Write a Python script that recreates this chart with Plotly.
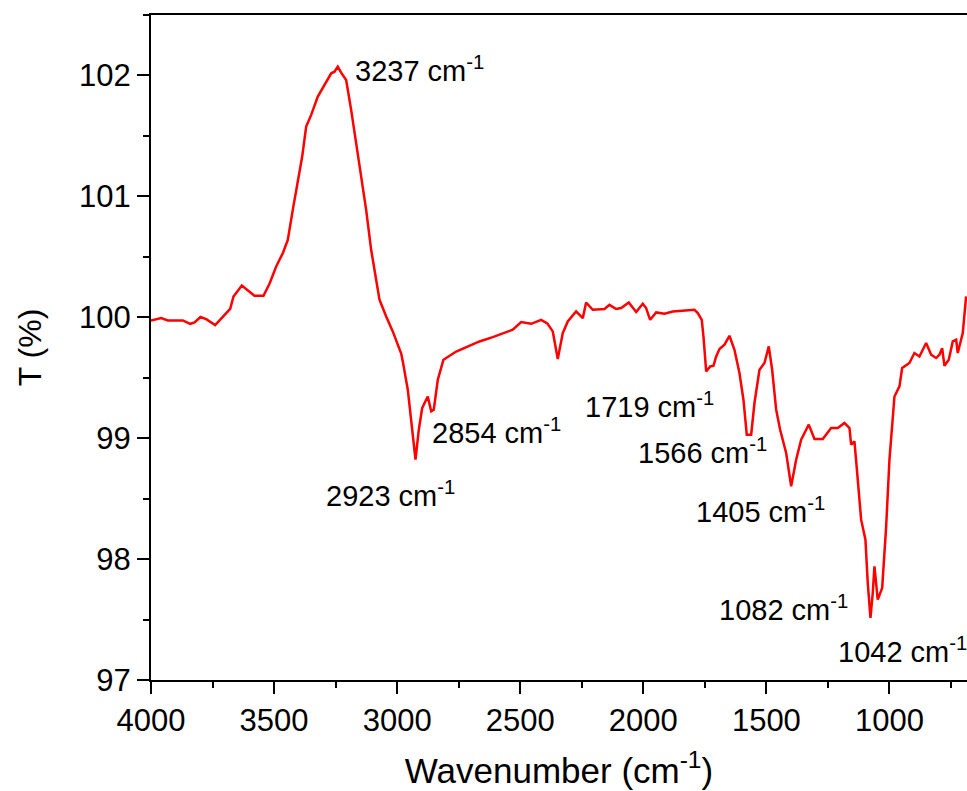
import plotly.graph_objects as go

# FTIR spectrum (wavenumber in cm-1, transmittance in %)
wavenumber = [
    4000, 3958.6, 3931.8, 3870.8, 3840.8, 3823, 3798.9, 3775.8, 3739.4, 3708,
    3678.3, 3664.9, 3631, 3579.6, 3543, 3518.6, 3491.4, 3464.6, 3444.3, 3424,
    3403.7, 3385.8, 3369.6, 3349.2, 3322.4, 3295.2, 3267.9, 3254.6, 3241.2, 3227.5,
    3207.2, 3186.9, 3166.6, 3146.2, 3125.9, 3105.6, 3085.3, 3071.8, 3044.6, 3017.8,
    2983.6, 2977.1, 2956.8, 2938.9, 2925.5, 2912, 2898.3, 2875.6, 2861.8, 2851.2,
    2834.9, 2811.8, 2760.2, 2665.6, 2611.6, 2530.4, 2496.2, 2455.6, 2415, 2390,
    2367.8, 2347.5, 2327.2, 2306.9, 2273, 2245.9, 2232.3, 2205.3, 2157.8, 2137.5,
    2110.3, 2090, 2059.1, 2029, 2002.2, 1988.6, 1972.2, 1947.8, 1914, 1880.3,
    1826, 1792.2, 1778.7, 1762.5, 1755.6, 1744.6, 1728.4, 1715, 1704, 1690.6,
    1670.3, 1650, 1629.7, 1609.4, 1593.2, 1579.7, 1561.8, 1548.4, 1528.1, 1507.8,
    1490.3, 1476.6, 1460.3, 1444.1, 1419.7, 1399.4, 1379.1, 1358.8, 1338.4, 1327.8,
    1304.7, 1270.9, 1236.9, 1209.9, 1182.8, 1162.5, 1155.6, 1142.2, 1128.8, 1115.1,
    1097.6, 1088.2, 1077.2, 1067.8, 1061, 1047.6, 1029.6, 1013.4, 1000, 979.7,
    959.4, 948.4, 918.9, 898.6, 878.2, 851, 830.7, 810.4, 796.9, 786,
    776.7, 759.1, 742.8, 729, 722.6, 708.8, 702.2, 688.6,
]
transmittance = [
    99.974, 99.993, 99.974, 99.974, 99.946, 99.957, 100.002, 99.985, 99.936, 100.007,
    100.07, 100.172, 100.263, 100.178, 100.178, 100.277, 100.42, 100.53, 100.64, 100.888,
    101.109, 101.329, 101.577, 101.674, 101.825, 101.921, 102.018, 102.031, 102.073, 102.023,
    101.963, 101.715, 101.44, 101.164, 100.888, 100.558, 100.31, 100.145, 100.007, 99.883,
    99.7, 99.635, 99.401, 99.098, 98.822, 99.07, 99.25, 99.345, 99.222, 99.236,
    99.483, 99.649, 99.717, 99.8, 99.836, 99.897, 99.96, 99.946, 99.979, 99.95,
    99.883, 99.655, 99.869, 99.965, 100.048, 99.993, 100.122, 100.062, 100.068, 100.103,
    100.068, 100.076, 100.122, 100.043, 100.112, 100.076, 99.979, 100.04, 100.029, 100.048,
    100.054, 100.062, 100.035, 99.979, 99.841, 99.552, 99.593, 99.599, 99.676, 99.737,
    99.773, 99.847, 99.731, 99.539, 99.318, 99.029, 99.029, 99.291, 99.566, 99.622,
    99.759, 99.566, 99.236, 99.07, 98.878, 98.602, 98.822, 98.988, 99.07, 99.112,
    98.993, 98.993, 99.084, 99.084, 99.126, 99.084, 98.946, 98.974, 98.657, 98.326,
    98.161, 97.803, 97.514, 97.721, 97.94, 97.665, 97.762, 98.271, 98.822, 99.345,
    99.428, 99.58, 99.622, 99.704, 99.676, 99.787, 99.69, 99.663, 99.69, 99.745,
    99.599, 99.649, 99.8, 99.814, 99.704, 99.814, 99.869, 100.172,
]

# Peak labels and their label anchor positions (data coordinates)
peak_labels = ["3237", "2923", "2854", "1719", "1566", "1405", "1082", "1042"]
label_x = [3179.4, 3297.2, 2867.8, 2245.0, 2030.9, 1795.2, 1699.4, 1218.4]
label_y = [101.89, 98.370, 98.891, 99.112, 98.729, 98.238, 97.430, 97.080]

x_ticks = [4000, 3500, 3000, 2500, 2000, 1500, 1000]
y_ticks = [97, 98, 99, 100, 101, 102]

FONT = "Liberation Sans, Arial, sans-serif"

fig = go.Figure()
fig.add_trace(go.Scatter(
    x=wavenumber, y=transmittance, mode="lines",
    line=dict(color="#ff0000", width=2.5), showlegend=False,
))

for lab, lx, ly in zip(peak_labels, label_x, label_y):
    fig.add_annotation(
        x=lx, y=ly, xref="x", yref="y",
        text=f"{lab} cm<sup>-1</sup>", showarrow=False,
        xanchor="left", yanchor="bottom",
        font=dict(family=FONT, size=29, color="black"),
    )

axis_common = dict(
    showgrid=False, zeroline=False,
    showline=True, linecolor="black", linewidth=2,
    ticks="outside", ticklen=12, tickwidth=2, tickcolor="black",
    tickfont=dict(family=FONT, size=31, color="black"),
)

fig.update_xaxes(
    range=[4000, 685], tickvals=x_ticks, mirror=True,
    minor=dict(ticks="outside", ticklen=6, tickwidth=2, tickcolor="black", dtick=250),
    title=dict(text="Wavenumber (cm<sup>-1</sup>)", font=dict(family=FONT, size=35, color="black"), standoff=21),
    **axis_common,
)
fig.update_yaxes(
    range=[97, 102.5], tickvals=y_ticks,
    minor=dict(ticks="outside", ticklen=6, tickwidth=2, tickcolor="black", dtick=0.5),
    title=dict(text="T (%)", font=dict(family=FONT, size=32, color="black"), standoff=28),
    **axis_common,
)

fig.update_layout(
    width=967, height=791,
    margin=dict(l=151, r=0, t=15, b=111),
    paper_bgcolor="white", plot_bgcolor="white",
)

# Remove the page's default body margin so the figure fills the window exactly
fig.write_html(
    "out.html",
    config={"displayModeBar": False},
    post_script="document.body.style.margin='0';document.body.style.overflow='hidden';",
)
